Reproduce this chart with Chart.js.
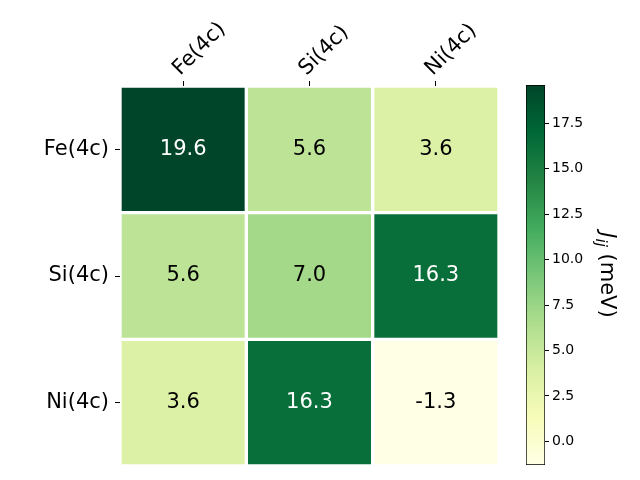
<!DOCTYPE html>
<html>
<head>
<meta charset="utf-8">
<script src="https://cdn.jsdelivr.net/npm/chart.js@4"></script>
<style>
    /* page and canvas layout */
    body { margin: 0; background: #fff; }
    .wrap { position: relative; width: 640px; height: 480px; }
    #heatmap { position: absolute; left: 0; top: 0; }
    #colorbar { position: absolute; left: 510px; top: 0; }
</style>
</head>
<body>
<div class="wrap">
    <canvas id="heatmap" width="520" height="480"></canvas>
    <canvas id="colorbar" width="130" height="480"></canvas>
</div>
<script>
    // data
    const sites = ['Fe(4c)', 'Si(4c)', 'Ni(4c)'];
    const rowFe = [19.6, 5.6, 3.6];
    const rowSi = [5.6, 7.0, 16.3];
    const rowNi = [3.6, 16.3, -1.3];
    const jijRows = [rowFe, rowSi, rowNi];
    const cbTicks = [0, 2.5, 5, 7.5, 10, 12.5, 15, 17.5];

    const vmin = Math.min(...jijRows.flat());
    const vmax = Math.max(...jijRows.flat());

    // YlGn colormap stops
    const ylgn = ['#ffffe5', '#f7fcb9', '#d9f0a3', '#addd8e', '#78c679', '#41ab5d', '#238443', '#006837', '#004529'];

    function hexRgb(h) {
        return [parseInt(h.slice(1, 3), 16), parseInt(h.slice(3, 5), 16), parseInt(h.slice(5, 7), 16)];
    }
    function cmap(v) {
        let t = (v - vmin) / (vmax - vmin);
        t = Math.max(0, Math.min(1, t)) * (ylgn.length - 1);
        const i = Math.min(Math.floor(t), ylgn.length - 2);
        const f = t - i;
        const a = hexRgb(ylgn[i]), b = hexRgb(ylgn[i + 1]);
        const c = a.map((x, k) => Math.round(x + (b[k] - x) * f));
        return `rgb(${c[0]}, ${c[1]}, ${c[2]})`;
    }

    Chart.defaults.font.family = '"DejaVu Sans", sans-serif';
    Chart.defaults.color = '#000';

    // one stacked dataset per row, bottom row first
    const datasets = [];
    for (let r = sites.length - 1; r >= 0; r--) {
        datasets.push({
            label: sites[r],
            data: jijRows[r].map(() => 1),
            jij: jijRows[r],
            backgroundColor: jijRows[r].map(cmap),
            borderColor: '#ffffff',
            borderWidth: 2,
            borderSkipped: false,
            barPercentage: 1,
            categoryPercentage: 1
        });
    }

    const cellText = {
        id: 'cellText',
        afterDatasetsDraw(chart) {
            const ctx = chart.ctx;
            ctx.save();
            ctx.font = '21px "DejaVu Sans"';
            ctx.textAlign = 'center';
            ctx.textBaseline = 'middle';
            chart.data.datasets.forEach((ds, di) => {
                chart.getDatasetMeta(di).data.forEach((el, i) => {
                    const v = ds.jij[i];
                    ctx.fillStyle = v > 10 ? '#ffffff' : '#000000';
                    ctx.fillText(v.toFixed(1), el.x, (el.y + el.base) / 2);
                });
            });
            ctx.restore();
        }
    };

    new Chart(document.getElementById('heatmap'), {
        type: 'bar',
        data: { labels: sites, datasets: datasets },
        options: {
            responsive: false,
            animation: false,
            layout: { padding: { left: 0, top: 0, right: 21, bottom: 14 } },
            plugins: { legend: { display: false }, tooltip: { enabled: false } },
            scales: {
                x: {
                    position: 'top',
                    stacked: true,
                    offset: true,
                    grid: { offset: false, drawOnChartArea: false, color: '#000', tickLength: 5 },
                    border: { display: false },
                    ticks: { font: { size: 21 }, minRotation: 45, maxRotation: 45, padding: 0, labelOffset: 11 },
                    afterFit(s) { s.height = 86; }
                },
                y: {
                    stacked: true,
                    min: 0,
                    max: 3,
                    grid: { drawOnChartArea: false, color: '#000', tickLength: 5 },
                    border: { display: false },
                    ticks: {
                        font: { size: 21, lineHeight: 0.5 },
                        padding: 6,
                        callback: (v) => sites[sites.length - 1 - Math.floor(v)]
                    },
                    afterBuildTicks(s) { s.ticks = [0.5, 1.5, 2.5].map(v => ({ value: v })); },
                    afterFit(s) { s.width = 120; }
                }
            }
        },
        plugins: [cellText]
    });

    // colorbar
    const cbLabel = {
        id: 'cbLabel',
        afterDraw(chart) {
            const ctx = chart.ctx;
            ctx.save();
            ctx.translate(96, 275);
            ctx.rotate(Math.PI / 2);
            ctx.fillStyle = '#000';
            ctx.textBaseline = 'middle';
            const big = '21px "DejaVu Sans"', bigIt = 'oblique 21px "DejaVu Sans"', small = 'oblique 15px "DejaVu Sans"';
            ctx.font = bigIt; const wJ = ctx.measureText('J').width;
            ctx.font = small; const wS = ctx.measureText('ij').width;
            ctx.font = big; const wR = ctx.measureText(' (meV)').width;
            let x = -(wJ + wS + wR) / 2;
            ctx.textAlign = 'left';
            ctx.font = bigIt; ctx.fillText('J', x, 0); x += wJ;
            ctx.font = small; ctx.fillText('ij', x, 6); x += wS;
            ctx.font = big; ctx.fillText(' (meV)', x, 0);
            ctx.restore();
        }
    };

    new Chart(document.getElementById('colorbar'), {
        type: 'bar',
        data: {
            labels: ['cb'],
            datasets: [{
                data: [[vmin, vmax]],
                backgroundColor(c) {
                    const { chart } = c;
                    const y = chart.scales.y;
                    if (!chart.chartArea || !y) return ylgn[4];
                    const g = chart.ctx.createLinearGradient(0, y.getPixelForValue(vmin), 0, y.getPixelForValue(vmax));
                    ylgn.forEach((col, i) => g.addColorStop(i / (ylgn.length - 1), col));
                    return g;
                },
                borderColor: '#000',
                borderWidth: 1,
                borderSkipped: false,
                barPercentage: 1,
                categoryPercentage: 1
            }]
        },
        options: {
            responsive: false,
            animation: false,
            layout: { padding: { left: 16, top: 85, right: 0, bottom: 15 } },
            plugins: { legend: { display: false }, tooltip: { enabled: false } },
            scales: {
                x: { display: false },
                y: {
                    position: 'right',
                    min: vmin,
                    max: vmax,
                    grid: { drawOnChartArea: false, color: '#000', tickLength: 4 },
                    border: { display: false },
                    ticks: { font: { size: 14 }, padding: 3, callback: (v) => v.toFixed(1) },
                    afterBuildTicks(s) { s.ticks = cbTicks.map(v => ({ value: v })); },
                    afterFit(s) { s.width = 95; }
                }
            }
        },
        plugins: [cbLabel]
    });
</script>
</body>
</html>
